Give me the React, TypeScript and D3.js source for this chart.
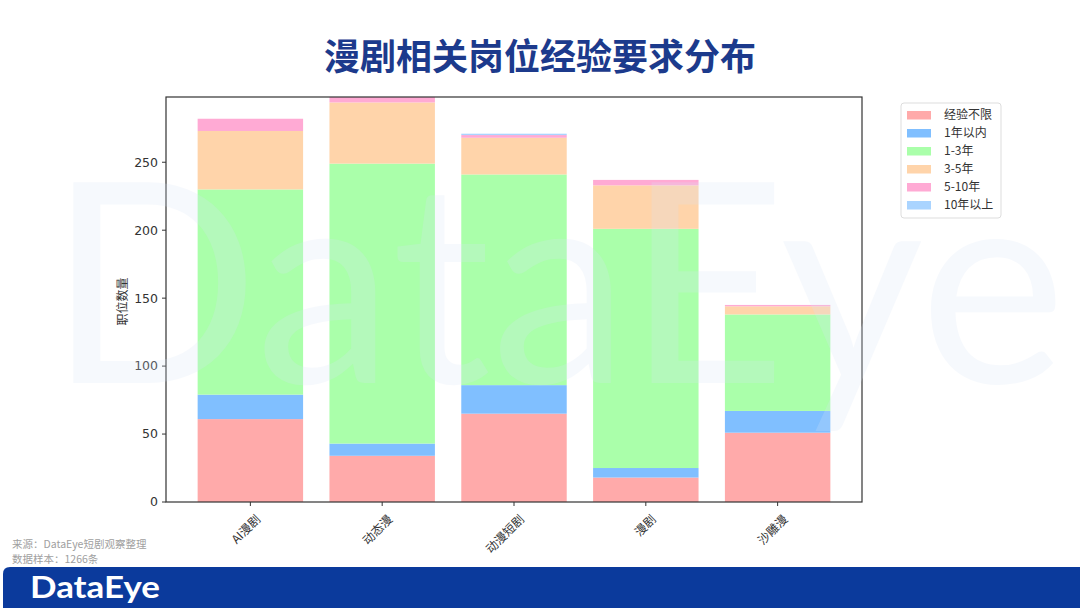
import React from "react";
import * as d3 from "d3";

const categories = ["AI漫剧", "动态漫", "动漫短剧", "漫剧", "沙雕漫"];
const seriesNames = ["经验不限", "1年以内", "1-3年", "3-5年", "5-10年", "10年以上"];
const s_none = [61, 34, 65, 18, 51];
const s_lt1 = [18, 9, 21, 7, 16];
const s_1to3 = [151, 206, 155, 176, 71];
const s_3to5 = [43, 45, 27, 32, 6];
const s_5to10 = [9, 4, 2, 4, 1];
const s_gt10 = [0, 0, 1, 0, 0];
const yTicks = [0, 50, 100, 150, 200, 250];
const colors = ["#ffaaaa", "#80bfff", "#aaffaa", "#ffd4aa", "#ffaad4", "#aad4ff"];

const W = 1080;
const H = 608;
const plot = { left: 166, right: 862, top: 97, bottom: 502 };
const font = "'DejaVu Sans', 'Noto Sans CJK SC', sans-serif";
const cjk = "'Noto Sans CJK SC', 'DejaVu Sans', sans-serif";

export default function App() {
  const allSeries = [s_none, s_lt1, s_1to3, s_3to5, s_5to10, s_gt10];
  const rows = categories.map((c, i) => {
    const r: any = { cat: c };
    seriesNames.forEach((s, j) => (r[s] = allSeries[j][i]));
    return r;
  });
  const stacked = d3.stack().keys(seriesNames)(rows);
  const yMax = d3.max(rows, (r: any) => seriesNames.reduce((a, s) => a + r[s], 0)) as number;

  const x = d3
    .scaleBand()
    .domain(categories)
    .range([plot.left, plot.right])
    .paddingInner(0.2)
    .paddingOuter(0.24);
  const y = d3.scaleLinear().domain([0, yMax]).range([plot.bottom, plot.top]);

  return (
    <svg width={W} height={H} style={{ display: "block", position: "absolute", left: 0, top: 0 }}>
      <rect x={0} y={0} width={W} height={H} fill="#ffffff" />
      {/* title */}
      <text
        x={540}
        y={70}
        textAnchor="middle"
        fontFamily={cjk}
        fontWeight="bold"
        fontSize={36}
        fill="#1c3a8c"
      >
        漫剧相关岗位经验要求分布
      </text>

      {/* bars */}
      {stacked.map((layer, j) => (
        <g key={layer.key}>
          {layer.map((d: any, i: number) =>
            d[1] - d[0] > 0 ? (
              <rect
                key={i}
                x={x(categories[i])}
                width={x.bandwidth()}
                y={y(d[1])}
                height={y(d[0]) - y(d[1])}
                fill={colors[j]}
              />
            ) : null
          )}
        </g>
      ))}

      {/* frame */}
      <rect
        x={plot.left}
        y={plot.top}
        width={plot.right - plot.left}
        height={plot.bottom - plot.top}
        fill="none"
        stroke="#333"
        strokeWidth={1.2}
      />

      {/* y axis */}
      {yTicks.map((t) => (
        <g key={t} transform={`translate(${plot.left},${y(t)})`}>
          <line x1={-4} x2={0} stroke="#333" strokeWidth={1} />
          <text x={-8} dy="0.35em" textAnchor="end" fontFamily={font} fontSize={12.5} fill="#333">
            {t}
          </text>
        </g>
      ))}
      <text
        transform={`translate(127,${(plot.top + plot.bottom) / 2 + 2}) rotate(-90)`}
        textAnchor="middle"
        fontFamily={cjk}
        fontSize={12}
        fill="#333"
      >
        职位数量
      </text>

      {/* x axis */}
      {categories.map((c) => {
        const cx = (x(c) as number) + x.bandwidth() / 2;
        return (
          <g key={c} transform={`translate(${cx},${plot.bottom})`}>
            <line y1={0} y2={4} stroke="#333" strokeWidth={1} />
            <text
              transform="translate(5,12) rotate(-45)"
              textAnchor="end"
              dy="0.7em"
              fontFamily={cjk}
              fontSize={12}
              fill="#333"
            >
              {c}
            </text>
          </g>
        );
      })}

      {/* legend */}
      <g transform="translate(901,103)">
        <rect x={0} y={0} width={100} height={115} rx={3} fill="#fff" stroke="#ddd" strokeWidth={1} />
        {seriesNames.map((s, j) => (
          <g key={s} transform={`translate(6,${12 + j * 18})`}>
            <rect x={0} y={-4} width={24} height={8.5} fill={colors[j]} />
            <text x={37} dy="0.35em" fontFamily={cjk} fontSize={12} fill="#333">
              {s}
            </text>
          </g>
        ))}
      </g>

      {/* watermark */}
      <text
        x={48}
        y={383}
        textLength={1018}
        lengthAdjust="spacingAndGlyphs"
        fontFamily="'Lato', 'DejaVu Sans', sans-serif"
        fontSize={280}
        fill="#d8e5f7"
        opacity={0.22}
      >
        DataEye
      </text>

      {/* source */}
      <text x={12} y={548} fontFamily={cjk} fontSize={10.5} fill="#a0a0a0">
        来源：DataEye短剧观察整理
      </text>
      <text x={12} y={563} fontFamily={cjk} fontSize={10.5} fill="#a0a0a0">
        数据样本：1266条
      </text>

      {/* bottom banner */}
      <path d={`M3,${H} L3,574 Q3,567 10,567 L${W},567 L${W},${H} Z`} fill="#0b3a9c" />
      <text
        x={30}
        y={598}
        fontFamily="'Lato', 'DejaVu Sans', sans-serif"
        fontWeight="bold"
        fontSize={30}
        fill="#ffffff"
        textLength={130}
        lengthAdjust="spacingAndGlyphs"
      >
        DataEye
      </text>
    </svg>
  );
}
